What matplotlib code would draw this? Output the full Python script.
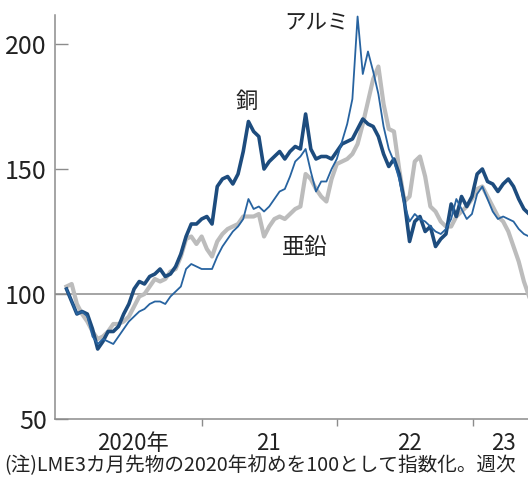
import matplotlib
matplotlib.use('Agg')
import matplotlib.pyplot as plt
import pandas as pd

# biweekly LME 3-month futures, index (start of 2020 = 100)
dates = pd.date_range('2020-01-03', periods=90, freq='14D')

copper = [102, 97, 92, 93, 92, 86, 78, 81, 85, 85,
          87, 92, 96, 102, 105, 104, 107, 108, 110, 107,
          108, 111, 116, 123, 128, 128, 130, 131, 128, 143,
          146, 147, 144, 148, 157, 169, 165, 163, 150, 153,
          155, 157, 154, 157, 159, 158, 172, 158, 154, 155,
          155, 154, 157, 160, 161, 162, 166, 170, 168, 167,
          163, 156, 151, 154, 148, 137, 121, 129, 131, 125,
          127, 119, 122, 124, 136, 131, 139, 135, 139, 148,
          150, 145, 144, 141, 144, 146, 143, 138, 134, 132]

aluminium = [102, 97, 92, 93, 91, 83, 80, 82, 81, 80,
             83, 86, 89, 91, 93, 94, 96, 97, 97, 96,
             99, 101, 103, 110, 112, 111, 110, 110, 110, 115,
             119, 122, 125, 127, 130, 138, 134, 135, 133, 135,
             138, 141, 142, 147, 153, 155, 158, 149, 141, 145,
             145, 150, 154, 161, 168, 178, 211, 188, 197, 189,
             180, 167, 158, 153, 146, 136, 129, 132, 130, 129,
             127, 125, 124, 126, 130, 138, 134, 130, 132, 140,
             143, 138, 133, 130, 131, 130, 129, 126, 124, 123]

zinc = [103, 104, 96, 92, 89, 85, 82, 83, 85, 88,
        88, 89, 91, 95, 99, 100, 103, 106, 105, 106,
        109, 110, 115, 122, 123, 120, 123, 118, 115, 121,
        124, 126, 127, 128, 131, 131, 131, 132, 123, 127,
        130, 131, 130, 132, 134, 135, 148, 146, 142, 139,
        137, 146, 152, 153, 154, 156, 160, 168, 177, 186,
        191, 176, 166, 165, 150, 137, 139, 153, 155, 147,
        135, 133, 129, 127, 127, 131, 133, 135, 138, 142,
        143, 139, 135, 131, 129, 125, 119, 113, 105, 99]

year_ticks = ['2021-01-01', '2022-01-01', '2023-01-01']
year_label_pos = ['2020-07-01', '2021-07-01', '2022-07-15', '2023-03-25']
year_labels = ['2020年', '21', '22', '23']

jp = 'Noto Sans CJK JP'
narrow = ['Liberation Sans Narrow', jp]

fig = plt.figure(figsize=(5.28, 4.84), dpi=100)
ax = fig.add_axes([55/528, 65/484, 1 - 55/528, 404/484])

ax.axhline(100, color='#8c8c8c', lw=1.1, zorder=1)
ax.plot(dates, zinc, color='#bcbcbc', lw=3.0, zorder=2)
ax.plot(dates, copper, color='#1d4c7e', lw=2.6, zorder=3)
ax.plot(dates, aluminium, color='#2763a0', lw=1.3, zorder=4)

ax.set_ylim(50, 211.6)
ax.set_xlim(pd.Timestamp('2019-12-03'), pd.Timestamp('2023-05-30'))

ax.set_yticks([50, 100, 150, 200])
ax.tick_params(axis='y', direction='in', length=9, width=1, color='#8c8c8c',
               pad=6, labelsize=18)
for lb in ax.get_yticklabels():
    lb.set_family(narrow)
    lb.set_color('#222222')

# year boundaries get ticks, labels sit between them
ax.set_xticks(pd.to_datetime(year_ticks))
ax.set_xticklabels([])
ax.tick_params(axis='x', which='major', direction='out', length=5, width=1,
               color='#8c8c8c')
ax.set_xticks(pd.to_datetime(year_label_pos), minor=True)
ax.set_xticklabels(year_labels, minor=True)
ax.tick_params(axis='x', which='minor', length=0, pad=9, labelsize=16)
for lb in ax.get_xticklabels(minor=True):
    lb.set_family(narrow)
    lb.set_color('#222222')

for s in ['top', 'right']:
    ax.spines[s].set_visible(False)
for s in ['left', 'bottom']:
    ax.spines[s].set_color('#8c8c8c')
    ax.spines[s].set_linewidth(1.1)

ax.text(pd.Timestamp('2021-05-03'), 177, '銅', family=jp, fontsize=16,
        color='#222222', ha='center', va='center')
ax.text(pd.Timestamp('2021-11-06'), 208.8, 'アルミ', family=jp, fontsize=15.5,
        color='#222222', ha='center', va='center', clip_on=False)
ax.text(pd.Timestamp('2021-10-06'), 118.8, '亜鉛', family=jp, fontsize=16.5,
        color='#222222', ha='center', va='center')

fig.text(4/528, 1 - 466/484, '(注)LME3カ月先物の2020年初めを100として指数化。週次',
         family=jp, fontsize=14.1, color='#222222', ha='left', va='center')

fig.savefig('out.png', dpi=100)
